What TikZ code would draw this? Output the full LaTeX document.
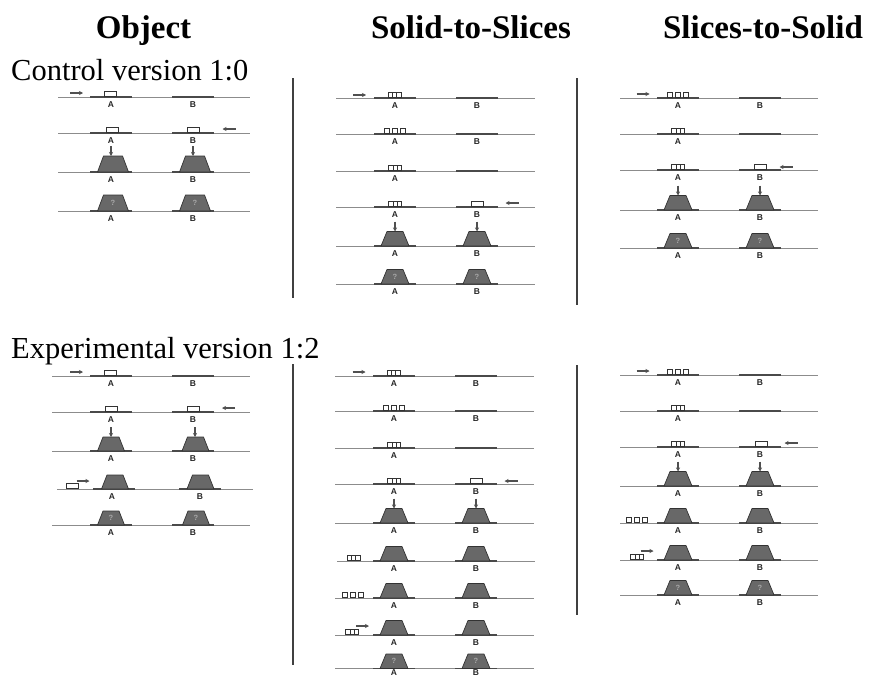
\documentclass[tikz,border=0pt]{standalone}
\usepackage{fontspec}
\setmainfont{Liberation Serif}
\newfontfamily\labfont{Liberation Sans}
\usetikzlibrary{arrows.meta}

\definecolor{floorgray}{HTML}{8C8C8C}
\definecolor{padgray}{HTML}{4A4A4A}
\definecolor{solidgray}{HTML}{686868}
\definecolor{edgegray}{HTML}{333333}
\definecolor{arrowgray}{HTML}{505050}
\definecolor{qgray}{HTML}{A8A8A8}

\tikzset{
  floor/.style={draw=floorgray, line width=0.9pt},
  pad/.style={draw=padgray, line width=1.4pt},
  trapfill/.style={fill=solidgray, draw=edgegray, line width=0.7pt, line join=round},
  box/.style={fill=white, draw=edgegray, line width=0.7pt},
  mover/.style={draw=arrowgray, line width=1.1pt, -{Stealth[length=4pt,width=4pt]}},
  lab/.style={font=\labfont\bfseries\fontsize{8.5}{9}\selectfont, text=black!85, inner sep=0pt},
  qmark/.style={font=\labfont\bfseries\fontsize{7.5}{8}\selectfont, text=qgray, inner sep=0pt},
  divider/.style={draw=black!75, line width=1.2pt},
  head/.style={font=\bfseries\fontsize{33}{36}\selectfont, inner sep=0pt, anchor=base},
  cond/.style={font=\fontsize{30.5}{33}\selectfont, inner sep=0pt, anchor=base west},
}

\newcounter{lbl}
% floor line: y, x-left, x-right
\newcommand{\flr}[3]{\draw[floor] (#2,#1) -- (#3,#1);}
% dark pads under the two positions: y, xA, xB
\newcommand{\pads}[3]{\draw[pad] (#2-21,#1) -- (#2+21,#1); \draw[pad] (#3-21,#1) -- (#3+21,#1);}
% position letters
\def\labgap{7.5}
\newcommand{\labAB}[3]{\stepcounter{lbl}\node[lab] (a\arabic{lbl}) at (#2,#1+\labgap) {A};
  \node[lab] (b\arabic{lbl}) at (#3,#1+\labgap) {B};}
\newcommand{\labA}[2]{\stepcounter{lbl}\node[lab] (a\arabic{lbl}) at (#2,#1+\labgap) {A};}
% trapezoid solid standing on the floor: x, y
\def\trapB{14}\def\trapT{8}\def\trapH{14.5}
\newcommand{\trap}[2]{\filldraw[trapfill] (#1-\trapB,#2) -- (#1-\trapT,#2-\trapH)
  -- (#1+\trapT,#2-\trapH) -- (#1+\trapB,#2) -- cycle;}
\newcommand{\solids}[3]{\trap{#2}{#1}\trap{#3}{#1}}
\newcommand{\darr}[2]{\draw[mover] (#1,#2-\trapH-10) -- (#1,#2-\trapH);}
\newcommand{\pushdown}[3]{\darr{#2}{#1}\darr{#3}{#1}}
\newcommand{\unknown}[3]{\stepcounter{lbl}\node[qmark] (qa\arabic{lbl}) at (#2,#1-\trapH/2) {?};
  \node[qmark] (qb\arabic{lbl}) at (#3,#1-\trapH/2) {?};}
% flat pieces: x, y
\newcommand{\solidbox}[2]{\draw[box] (#1-6,#2-0.5) rectangle (#1+6,#2-5.2);}
\newcommand{\slices}[2]{\draw[box] (#1-6.5,#2-0.5) rectangle (#1+6.5,#2-5.2);
  \draw[edgegray, line width=0.6pt] (#1-2.2,#2-0.5) -- (#1-2.2,#2-5.2) (#1+2.2,#2-0.5) -- (#1+2.2,#2-5.2);}
\newcommand{\spread}[2]{\foreach \d in {-8,0,8} {\draw[box, xshift=\d pt] (#1-2.4,#2-0.5) rectangle (#1+2.4,#2-5.2);}}
% short motion arrows: centre x, y
\newcommand{\rarr}[2]{\draw[mover] (#1-6.5,#2) -- (#1+6.5,#2);}
\newcommand{\larr}[2]{\draw[mover] (#1+6.5,#2) -- (#1-6.5,#2);}

\begin{document}
\begin{tikzpicture}[x=1pt,y=-1pt]
\useasboundingbox (0,0) rectangle (877,677);
\clip (0,0) rectangle (877,677);
\fill[white] (0,0) rectangle (877,677);

% headings
\node[head] (h1) at (143.5,39) {Object};
\node[head] (h2) at (471,39) {Solid-to-Slices};
\node[head] (h3) at (763,39) {Slices-to-Solid};
\node[cond] (c1) at (11,81) {Control version 1:0};
\node[cond] (c2) at (11,358) {Experimental version 1:2};

% column dividers
\draw[divider] (293,78) -- (293,298);
\draw[divider] (577,78) -- (577,305);
\draw[divider] (293,364) -- (293,665);
\draw[divider] (577,365) -- (577,615);

% ---- control: object ----
\begin{scope}
\def\trapB{15.5}\def\trapT{9.5}\def\trapH{16}
\flr{97}{58}{250}\pads{97}{111}{193}\solidbox{110.5}{97}\rarr{76.5}{93}\labAB{97}{111}{193}
\flr{133}{58}{250}\pads{133}{111}{193}\solidbox{112}{133}\solidbox{193.5}{133}\larr{229}{129}\labAB{133}{111}{193}
\flr{172}{58}{250}\pads{172}{111}{193}\solids{172}{113}{195}\pushdown{172}{111}{193}\labAB{172}{111}{193}
\flr{211}{58}{250}\pads{211}{111}{193}\solids{211}{113}{195}\unknown{211}{113}{195}\labAB{211}{111}{193}
\end{scope}

% ---- control: solid-to-slices ----
\flr{98}{336}{535}\pads{98}{395}{477}\slices{394.5}{98}\rarr{359.5}{95}\labAB{98}{395}{477}
\flr{134}{336}{535}\pads{134}{395}{477}\spread{395}{134}\labAB{134}{395}{477}
\flr{171}{336}{535}\pads{171}{395}{477}\slices{395}{171}\labA{171}{395}
\flr{207}{336}{535}\pads{207}{395}{477}\slices{395}{207}\solidbox{477.5}{207}\larr{512}{203}\labAB{207}{395}{477}
\flr{246}{336}{535}\pads{246}{395}{477}\solids{246}{395}{477}\pushdown{246}{395}{477}\labAB{246}{395}{477}
\flr{284}{336}{535}\pads{284}{395}{477}\solids{284}{395}{477}\unknown{284}{395}{477}\labAB{284}{395}{477}

% ---- control: slices-to-solid ----
\flr{98}{620}{818}\pads{98}{678}{760}\spread{677.5}{98}\rarr{643}{94}\labAB{98}{678}{760}
\flr{134}{620}{818}\pads{134}{678}{760}\slices{678}{134}\labA{134}{678}
\flr{170}{620}{818}\pads{170}{678}{760}\slices{678}{170}\solidbox{760.5}{170}\larr{786}{167}\labAB{170}{678}{760}
\flr{210}{620}{818}\pads{210}{678}{760}\solids{210}{678}{760}\pushdown{210}{678}{760}\labAB{210}{678}{760}
\flr{248}{620}{818}\pads{248}{678}{760}\solids{248}{678}{760}\unknown{248}{678}{760}\labAB{248}{678}{760}

% ---- experimental: object ----
\begin{scope}
\def\trapB{13.5}\def\trapT{8}\def\trapH{14}
\flr{376}{52}{250}\pads{376}{111}{193}\solidbox{110.5}{376}\rarr{76.5}{372}\labAB{376}{111}{193}
\flr{412}{52}{250}\pads{412}{111}{193}\solidbox{111}{412}\solidbox{193}{412}\larr{228.5}{408}\labAB{412}{111}{193}
\flr{451}{52}{250}\pads{451}{111}{193}\solids{451}{111}{195.5}\pushdown{451}{111}{195}\labAB{451}{111}{193}
\flr{489}{57}{253}\pads{489}{114}{200}\solids{489}{115}{200.5}\solidbox{72}{489}\rarr{83}{481}\labAB{489}{112}{200}
\flr{525}{52}{250}\pads{525}{111}{193}\solids{525}{111}{196}\unknown{525}{111}{196}\labAB{525}{111}{193}
\end{scope}

% ---- experimental: solid-to-slices ----
\flr{376}{335}{534}\pads{376}{394}{476}\slices{393.5}{376}\rarr{359}{372}\labAB{376}{394}{476}
\flr{411}{335}{534}\pads{411}{394}{476}\spread{394}{411}\labAB{411}{394}{476}
\flr{448}{335}{534}\pads{448}{394}{476}\slices{394}{448}\labA{448}{394}
\flr{484}{335}{534}\pads{484}{394}{476}\slices{394}{484}\solidbox{476.5}{484}\larr{511}{481}\labAB{484}{394}{476}
\flr{523}{335}{534}\pads{523}{394}{476}\solids{523}{394}{476}\pushdown{523}{394}{476}\labAB{523}{394}{476}
\flr{561}{337}{535}\pads{561}{394}{476}\solids{561}{394}{476}\slices{353.5}{561}\labAB{561}{394}{476}
\flr{598}{335}{534}\pads{598}{394}{476}\solids{598}{394}{476}\spread{352.5}{598}\labAB{598}{394}{476}
\flr{635}{335}{534}\pads{635}{394}{476}\solids{635}{394}{476}\slices{352}{635}\rarr{362.5}{626}\labAB{635}{394}{476}
\begin{scope}
\def\labgap{4.3}
\flr{668.5}{335}{534}\pads{668.5}{394}{476}\solids{668.5}{394}{476}\unknown{668.5}{394}{476}\labAB{668.5}{394}{476}
\end{scope}

% ---- experimental: slices-to-solid ----
\flr{375}{620}{818}\pads{375}{678}{760}\spread{677.5}{375}\rarr{643}{371}\labAB{375}{678}{760}
\flr{411}{620}{818}\pads{411}{678}{760}\slices{678}{411}\labA{411}{678}
\flr{447}{620}{818}\pads{447}{678}{760}\slices{678}{447}\solidbox{761}{447}\larr{791}{443}\labAB{447}{678}{760}
\flr{486}{620}{818}\pads{486}{678}{760}\solids{486}{678}{760}\pushdown{486}{678}{760}\labAB{486}{678}{760}
\flr{523}{620}{818}\pads{523}{678}{760}\solids{523}{678}{760}\spread{637}{523}\labAB{523}{678}{760}
\flr{560}{620}{818}\pads{560}{678}{760}\solids{560}{678}{760}\slices{637}{560}\rarr{647}{551}\labAB{560}{678}{760}
\flr{595}{620}{818}\pads{595}{678}{760}\solids{595}{678}{760}\unknown{595}{678}{760}\labAB{595}{678}{760}
\end{tikzpicture}
\end{document}
